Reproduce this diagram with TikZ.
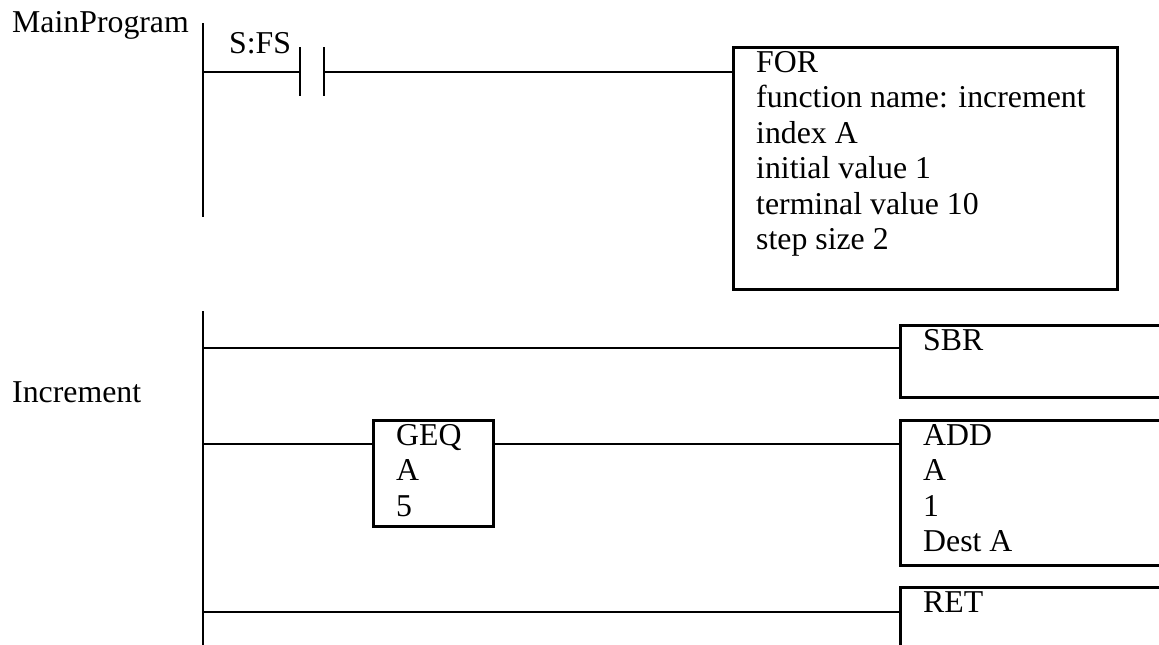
\documentclass[tikz,border=0pt]{standalone}
\usepackage{fontspec}
\setmainfont{Liberation Serif}
\begin{document}
\begin{tikzpicture}[x=1pt,y=-1pt,
  lbl/.style={anchor=base west, inner sep=0pt, font=\fontsize{31.8}{35.5}\selectfont},
  blk/.style={draw, line width=2.5pt, anchor=north west, inner sep=0pt},
  wire/.style={line width=2.7pt}]
\useasboundingbox (0,0) rectangle (1159,645);
\clip (0,0) rectangle (1159,645);

% labels
\node[lbl] (mainlbl) at (12,32) {MainProgram};
\node[lbl] (inclbl) at (12,402) {Increment};

% ---- MainProgram rung ----
\coordinate (rAt) at (203,23);
\coordinate (rAb) at (203,217);
\draw[wire] (rAt) -- (rAb);
\coordinate (r1) at (203,72);
\coordinate (kl) at (300,72);
\coordinate (kr) at (324,72);
\coordinate (klt) at (300,47);
\coordinate (klb) at (300,96);
\coordinate (krt) at (324,47);
\coordinate (krb) at (324,96);
\draw[wire] (r1) -- (kl);
\draw[wire] (klt) -- (klb);
\draw[wire] (krt) -- (krb);
\node[lbl] (sfs) at (229,53) {S:FS};

\node[blk, minimum width=384pt, minimum height=242pt] (forbox) at (732,46) {};
\draw[wire] (kr) -- (forbox.west |- kr);
\foreach \t [count=\i from 0] in {FOR, function name: increment, index A, initial value 1, terminal value 10, step size 2}
  \node[lbl] (for\i) at (756,72+35.5*\i) {\t};

% ---- Increment routine ----
\coordinate (rBt) at (203,311);
\coordinate (rBb) at (203,645);
\draw[wire] (rBt) -- (rBb);

\node[blk, minimum width=300pt, minimum height=72pt] (sbr) at (899,324) {};
\node[blk, minimum width=300pt, minimum height=145pt] (add) at (899,419) {};
\node[blk, minimum width=120pt, minimum height=106pt] (geq) at (372,419) {};
\node[blk, minimum width=300pt, minimum height=100pt] (ret) at (899,586) {};

\coordinate (b1) at (203,348);
\coordinate (b2) at (203,444);
\coordinate (b3) at (203,612);
\coordinate (g2) at (492,444);
\draw[wire] (b1) -- (sbr.west |- b1);
\draw[wire] (b2) -- (geq.west |- b2);
\draw[wire] (g2) -- (add.west |- g2);
\draw[wire] (b3) -- (ret.west |- b3);

\node[lbl] (sbrt) at (923,350) {SBR};
\foreach \t [count=\i from 0] in {ADD, A, 1, Dest A}
  \node[lbl] (add\i) at (923,445+35.5*\i) {\t};
\foreach \t [count=\i from 0] in {GEQ, A, 5}
  \node[lbl] (geq\i) at (396,445+35.5*\i) {\t};
\node[lbl] (rett) at (923,612) {RET};
\end{tikzpicture}
\end{document}
